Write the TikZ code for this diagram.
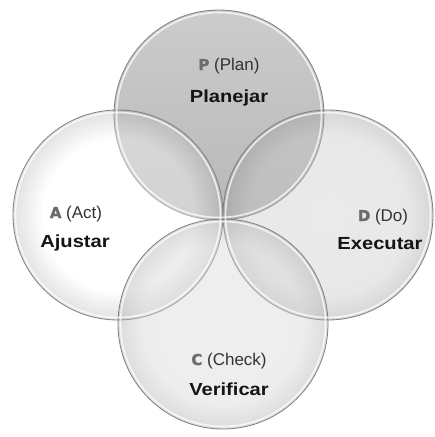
\documentclass[tikz,border=0pt]{standalone}
\usepackage{fontspec}
\setmainfont{Liberation Sans}[BoldFeatures={FakeStretch=1.15}]
\newfontfamily\heavyfont{DejaVu Sans}[FakeBold=1.5]
% white disc whose colour darkens only near the rim
\pgfdeclareradialshading{rimA}{\pgfpoint{0bp}{0bp}}{color(0bp)=(white); color(18bp)=(white); color(25bp)=(black!30); color(50bp)=(black!30)}
\pgfdeclareradialshading{rimD}{\pgfpoint{0bp}{0bp}}{color(0bp)=(black!20); color(19bp)=(black!22); color(25bp)=(black!40); color(50bp)=(black!40)}
\pgfdeclareradialshading{rimC}{\pgfpoint{0bp}{0bp}}{color(0bp)=(black!15); color(19bp)=(black!17); color(25bp)=(black!34); color(50bp)=(black!34)}
\begin{document}
\begin{tikzpicture}[x=1pt,y=-1pt,
  ring/.style={circle, minimum size=210pt, inner sep=0pt, draw=black!50, line width=0.8pt},
  bevel/.style={circle, minimum size=205pt, inner sep=0pt, draw=white, line width=1.6pt, draw opacity=0.75},
  subtxt/.style={font=\fontsize{17}{18}\selectfont, text=black!80},
  maintxt/.style={font=\bfseries\fontsize{17.5}{18}\selectfont, text=black!92}]
\useasboundingbox (0,0) rectangle (435,437);
\fill[white] (0,0) rectangle (435,437);
% Plan circle (solid grey, at the back)
\node[ring, top color=black!20, bottom color=black!28] (P) at (219,115) {};
% Act, Do, Check circles, translucent so the overlaps show through
\node[ring, shading=rimA, fill opacity=0.38] (A) at (118,215) {};
\node[ring, shading=rimD, fill opacity=0.4] (D) at (328,215) {};
\node[ring, shading=rimC, fill opacity=0.4] (C) at (223,324) {};
% soft inner highlight on every rim
\foreach \c in {P,A,D,C} \node[bevel] at (\c) {};
% labels
\node[subtxt, anchor=base] (Pl) at (229,70) {\textcolor{black!58}{\heavyfont\bfseries\fontsize{15}{15}\selectfont P}\ (Plan)};
\node[maintxt, anchor=base] (Pm) at (229,102) {Planejar};
\node[subtxt, anchor=base] (Al) at (76,218) {\textcolor{black!58}{\heavyfont\bfseries\fontsize{15}{15}\selectfont A}\ (Act)};
\node[maintxt, anchor=base] (Am) at (75,247) {Ajustar};
\node[subtxt, anchor=base] (Dl) at (383,221) {\textcolor{black!58}{\heavyfont\bfseries\fontsize{15}{15}\selectfont D}\ (Do)};
\node[maintxt, anchor=base] (Dm) at (380,249) {Executar};
\node[subtxt, anchor=base] (Cl) at (229,365) {\textcolor{black!58}{\heavyfont\bfseries\fontsize{15}{15}\selectfont C}\ (Check)};
\node[maintxt, anchor=base] (Cm) at (229,395) {Verificar};
\end{tikzpicture}
\end{document}
